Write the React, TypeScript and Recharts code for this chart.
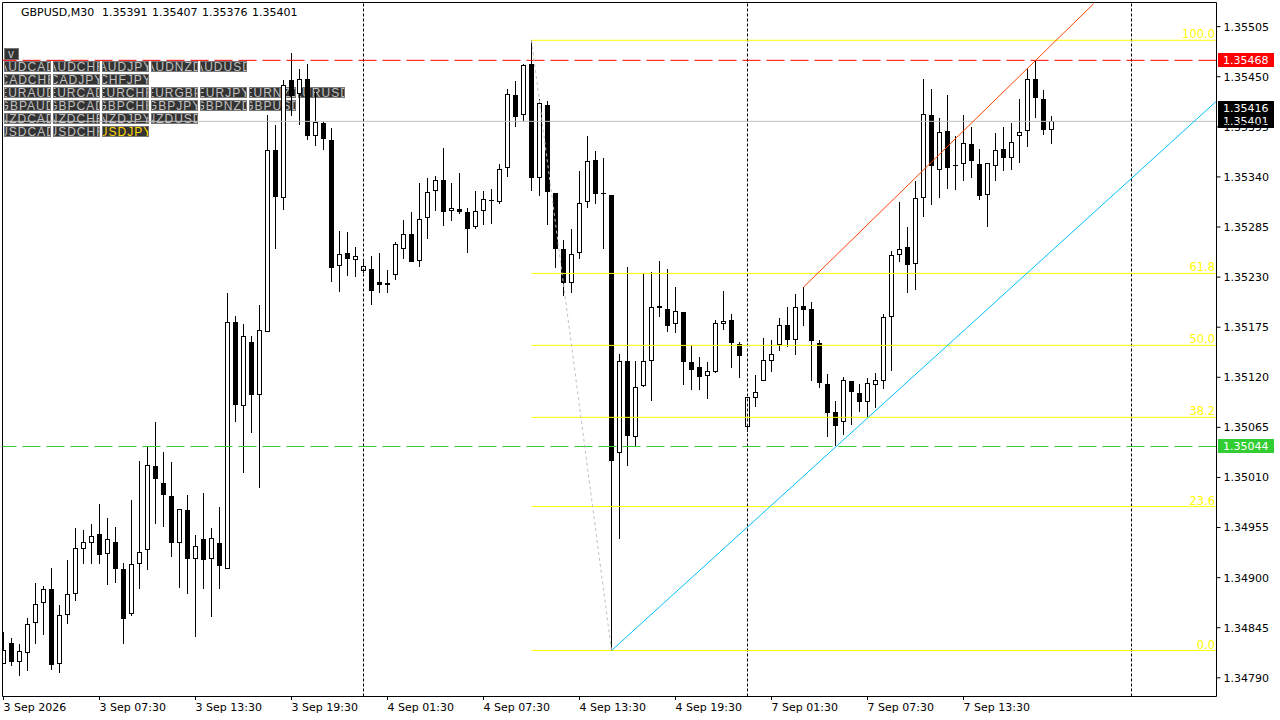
import { ComposedChart, Bar, XAxis, YAxis, ReferenceLine } from "recharts";

const opens = [
  1.34805, 1.34828, 1.34807, 1.34817, 1.3485, 1.34872, 1.34887, 1.34805, 1.34859, 1.34882,
  1.34932, 1.34938, 1.34948, 1.34926, 1.34939, 1.34909, 1.3486, 1.34915, 1.3493, 1.35023,
  1.35004, 1.3499, 1.34938, 1.34974, 1.3492, 1.34942, 1.3492, 1.34938, 1.3491, 1.35181,
  1.35089, 1.35159, 1.351, 1.3517, 1.3537, 1.35317, 1.35446, 1.35431, 1.35447, 1.35385,
  1.35399, 1.3538, 1.35242, 1.35256, 1.35249, 1.35237, 1.35239, 1.35225, 1.35223, 1.35232,
  1.35261, 1.35277, 1.35248, 1.35295, 1.35324, 1.35337, 1.35303, 1.35305, 1.35302, 1.35285,
  1.35303, 1.35315, 1.35313, 1.3535, 1.3543, 1.35408, 1.35464, 1.35339, 1.35419, 1.35322,
  1.35261, 1.35224, 1.35256, 1.35312, 1.35359, 1.35322, 1.3532, 1.35037, 1.35138, 1.35054,
  1.3511, 1.35138, 1.35198, 1.35195, 1.35178, 1.35192, 1.35137, 1.35131, 1.35121, 1.35126,
  1.35179, 1.35183, 1.35157, 1.35065, 1.35097, 1.35116, 1.35138, 1.35155, 1.35177, 1.35161,
  1.35198, 1.35195, 1.35158, 1.35113, 1.35082, 1.35071, 1.35116, 1.35103, 1.35093, 1.35112,
  1.35116, 1.35186, 1.35254, 1.35263, 1.35244, 1.35317, 1.35408, 1.35348, 1.3539, 1.35353,
  1.35354, 1.35376, 1.35354, 1.3532, 1.35352, 1.35371, 1.35361, 1.35385, 1.3539, 1.35448,
  1.35426, 1.35391,
];
const highs = [
  1.3484, 1.34834, 1.34827, 1.34856, 1.34894, 1.34891, 1.34911, 1.3487, 1.34919, 1.34955,
  1.34952, 1.34959, 1.34981, 1.34965, 1.34956, 1.34916, 1.34985, 1.35028, 1.35044, 1.35071,
  1.35038, 1.35027, 1.34975, 1.34991, 1.34947, 1.34993, 1.34955, 1.34978, 1.35212, 1.35187,
  1.35179, 1.35165, 1.35199, 1.35408, 1.35397, 1.35446, 1.35476, 1.35458, 1.35464, 1.35433,
  1.35401, 1.35394, 1.35281, 1.3528, 1.35263, 1.3525, 1.35253, 1.35256, 1.35238, 1.35268,
  1.35293, 1.35302, 1.35333, 1.35339, 1.35341, 1.35372, 1.35333, 1.35344, 1.35306, 1.35324,
  1.35324, 1.35327, 1.35354, 1.35437, 1.35445, 1.35464, 1.3549, 1.35426, 1.35423, 1.35322,
  1.35271, 1.35283, 1.35347, 1.35385, 1.35368, 1.35361, 1.3532, 1.35146, 1.35241, 1.35138,
  1.35233, 1.35236, 1.35248, 1.35239, 1.35219, 1.35192, 1.35155, 1.35142, 1.35137, 1.35183,
  1.35215, 1.35189, 1.35159, 1.35098, 1.35123, 1.35163, 1.35161, 1.35185, 1.35197, 1.35211,
  1.35219, 1.35203, 1.35161, 1.35124, 1.35094, 1.3512, 1.35116, 1.35113, 1.35119, 1.35125,
  1.35189, 1.35259, 1.35312, 1.35285, 1.35335, 1.35447, 1.35436, 1.35405, 1.3543, 1.35385,
  1.35408, 1.35395, 1.35371, 1.35355, 1.35388, 1.35395, 1.35399, 1.35425, 1.35459, 1.35468,
  1.35435, 1.35407,
];
const lows = [
  1.34805, 1.34803, 1.34792, 1.34797, 1.34827, 1.34837, 1.34799, 1.34795, 1.34849, 1.34874,
  1.34915, 1.34915, 1.34915, 1.34892, 1.34894, 1.34827, 1.34858, 1.34887, 1.34908, 1.34959,
  1.34956, 1.34923, 1.34889, 1.34882, 1.34835, 1.34887, 1.34857, 1.34887, 1.3491, 1.35071,
  1.35015, 1.35059, 1.34998, 1.3517, 1.35261, 1.35304, 1.35407, 1.35397, 1.3538, 1.35374,
  1.35369, 1.35225, 1.35214, 1.35231, 1.3523, 1.35234, 1.35199, 1.35213, 1.35213, 1.35227,
  1.3525, 1.35247, 1.35241, 1.35272, 1.35303, 1.35286, 1.35292, 1.35299, 1.35257, 1.35283,
  1.35287, 1.35288, 1.3531, 1.3534, 1.35395, 1.35401, 1.35325, 1.35319, 1.35287, 1.3524,
  1.35209, 1.35213, 1.3525, 1.35306, 1.3531, 1.35261, 1.3482, 1.34942, 1.35023, 1.35044,
  1.35109, 1.35094, 1.35186, 1.3517, 1.35169, 1.35112, 1.35106, 1.35106, 1.35096, 1.35125,
  1.35172, 1.3513, 1.35119, 1.3506, 1.35087, 1.35116, 1.35126, 1.35149, 1.35153, 1.35145,
  1.35176, 1.35116, 1.35108, 1.35054, 1.35044, 1.35057, 1.35068, 1.35082, 1.35076, 1.35086,
  1.35107, 1.35127, 1.35247, 1.35212, 1.35216, 1.35296, 1.35309, 1.35317, 1.35327, 1.35326,
  1.35336, 1.35339, 1.35315, 1.35285, 1.35335, 1.35347, 1.35348, 1.35355, 1.35373, 1.35405,
  1.35386, 1.35376,
];
const closes = [
  1.34821, 1.34807, 1.3482, 1.34849, 1.34871, 1.34887, 1.34804, 1.34859, 1.34882, 1.34933,
  1.34939, 1.34946, 1.34925, 1.34942, 1.3491, 1.34855, 1.34915, 1.34928, 1.35024, 1.35008,
  1.34991, 1.34938, 1.34975, 1.3492, 1.34935, 1.34919, 1.34943, 1.34913, 1.35181, 1.3509,
  1.35165, 1.35101, 1.35172, 1.35369, 1.35318, 1.35441, 1.35429, 1.35448, 1.35385, 1.354,
  1.35382, 1.3524, 1.35255, 1.3525, 1.35253, 1.35242, 1.35215, 1.35221, 1.35221, 1.35266,
  1.35277, 1.35247, 1.35294, 1.35323, 1.35337, 1.35301, 1.35306, 1.35301, 1.35283, 1.35303,
  1.35316, 1.35315, 1.35349, 1.35431, 1.35406, 1.35463, 1.35339, 1.35421, 1.35323, 1.35261,
  1.35223, 1.35255, 1.35311, 1.35358, 1.35321, 1.35321, 1.35028, 1.35138, 1.35055, 1.35109,
  1.35138, 1.35197, 1.35196, 1.35176, 1.35193, 1.35137, 1.35128, 1.3512, 1.35127, 1.3518,
  1.35182, 1.35158, 1.35143, 1.35098, 1.35104, 1.35139, 1.35146, 1.35177, 1.35161, 1.35197,
  1.35194, 1.3516, 1.35114, 1.35081, 1.35067, 1.35117, 1.35104, 1.35093, 1.35114, 1.35117,
  1.35186, 1.35254, 1.35261, 1.35243, 1.35317, 1.35409, 1.35352, 1.35389, 1.3535, 1.35353,
  1.35377, 1.35357, 1.35319, 1.35355, 1.35369, 1.35361, 1.35378, 1.35389, 1.35448, 1.35427,
  1.35391, 1.35401,
];

const priceTicks = [
  1.35505, 1.3545, 1.35395, 1.3534, 1.35285, 1.3523, 1.35175, 1.3512, 1.35065, 1.3501,
  1.34955, 1.349, 1.34845, 1.3479,
];
const timeTicks = [0, 12, 24, 36, 48, 60, 72, 84, 96, 108, 120];
const timeLabels = [
  "3 Sep 2026", "3 Sep 07:30", "3 Sep 13:30", "3 Sep 19:30", "4 Sep 01:30", "4 Sep 07:30",
  "4 Sep 13:30", "4 Sep 19:30", "7 Sep 01:30", "7 Sep 07:30", "7 Sep 13:30",
];
const daySeparators = [45, 93, 141];

const fibLevels = ["0.0", "23.6", "38.2", "50.0", "61.8", "100.0"];
const fibPrices = [1.3482, 1.34978, 1.35076, 1.35155, 1.35234, 1.3549];

const symbolRows = [
  ["AUDCAD", "AUDCHF", "AUDJPY", "AUDNZD", "AUDUSD"],
  ["CADCHF", "CADJPY", "CHFJPY"],
  ["EURAUD", "EURCAD", "EURCHF", "EURGBP", "EURJPY", "EURNZD", "EURUSD"],
  ["GBPAUD", "GBPCAD", "GBPCHF", "GBPJPY", "GBPNZD", "GBPUSD"],
  ["NZDCAD", "NZDCHF", "NZDJPY", "NZDUSD"],
  ["USDCAD", "USDCHF", "USDJPY"],
];

const candles = opens.map((open, i) => ({
  i,
  open,
  high: highs[i],
  low: lows[i],
  close: closes[i],
  range: [lows[i], highs[i]],
}));

const FONT = "'DejaVu Sans', sans-serif";
const X_MIN = -0.125;
const X_MAX = 151.625;

const Candle = (props: any) => {
  const { x, y, width, height, payload } = props;
  const { open, high, low, close } = payload;
  const perPrice = height / (high - low);
  const at = (p: number) => y + (high - p) * perPrice;
  const cx = Math.floor(x + width / 2) + 0.5;
  const top = Math.round(at(Math.max(open, close)));
  const bottom = Math.round(at(Math.min(open, close)));
  const isBull = close > open;
  return (
    <g shapeRendering="crispEdges">
      <line x1={cx} x2={cx} y1={Math.round(y)} y2={Math.round(y + height)} stroke="#000" />
      {isBull ? (
        <rect x={cx - 2} y={top + 0.5} width={4} height={Math.max(bottom - top - 1, 1)} fill="#fff" stroke="#000" />
      ) : (
        <rect x={cx - 2.5} y={top} width={5} height={Math.max(bottom - top, 1)} fill="#000" />
      )}
    </g>
  );
};

// axis sits at a fixed spot, so tick marks and labels hang off it directly
const TimeTick = ({ x, payload }: any) => (
  <g>
    <line x1={x} x2={x} y1={697} y2={700} stroke="#000" />
    <text x={x} y={711} fontFamily={FONT} fontSize={11} fill="#000" textAnchor="start">
      {timeLabels[timeTicks.indexOf(payload.value)]}
    </text>
  </g>
);

const priceTag = (fill: string, text: string) => (props: any) => {
  const { viewBox } = props;
  const cy = viewBox.y;
  return (
    <g>
      <rect x={1218} y={Math.round(cy) - 7} width={56} height={14} fill={fill} />
      <text x={1223} y={cy + 4} fontFamily={FONT} fontSize={11} fill="#fff">
        {text}
      </text>
    </g>
  );
};

const fibLabel = (text: string) => (props: any) => (
  <text x={1215} y={props.viewBox.y - 2} textAnchor="end" fontFamily={FONT} fontSize={11.5} fill="#ffff00">
    {text}
  </text>
);

function SymbolPanel() {
  const cell = (left: number, top: number, w: number, h: number, label: string, color: string) => (
    <div
      key={label}
      style={{
        position: "absolute",
        left,
        top,
        width: w,
        height: h,
        background: "#333",
        border: "1px solid #777",
        color,
        fontFamily: "'Liberation Sans', sans-serif",
        fontSize: 12,
        letterSpacing: 1,
        lineHeight: "10px",
        overflow: "hidden",
        display: "flex",
        justifyContent: "center",
        whiteSpace: "nowrap",
      }}
    >
      {label}
    </div>
  );
  return (
    <>
      {cell(4, 48, 13, 10, "v", "#c0c0c0")}
      {symbolRows.map((row, r) =>
        row.map((name, c) =>
          cell(4 + c * 49, 61 + r * 13, 45, 9, name, name === "USDJPY" ? "#ffd700" : "#c0c0c0")
        )
      )}
    </>
  );
}

export default function App() {
  return (
    <div style={{ position: "absolute", left: 0, top: 0, width: 1280, height: 720, background: "#fff", overflow: "hidden" }}>
      <SymbolPanel />
      <div style={{ position: "absolute", left: 21, top: 6, fontFamily: FONT, fontSize: 11, lineHeight: "14px", color: "#000" }}>
        GBPUSD,M30
      </div>
      <div style={{ position: "absolute", left: 102, top: 6, fontFamily: FONT, fontSize: 11, lineHeight: "14px", color: "#000", wordSpacing: 1, whiteSpace: "pre" }}>
        1.35391 1.35407 1.35376 1.35401
      </div>
      <div style={{ position: "absolute", left: 0, top: 0 }}>
        <ComposedChart
          width={1280}
          height={720}
          data={candles}
          margin={{ top: 2.5, right: 0, bottom: 0, left: 2.5 }}
        >
          <XAxis
            dataKey="i"
            type="number"
            domain={[X_MIN, X_MAX]}
            ticks={timeTicks}
            interval={0}
            height={23.5}
            tick={<TimeTick />}
            tickLine={false}
            axisLine={{ stroke: "#000" }}
            allowDataOverflow
          />
          <YAxis
            orientation="right"
            type="number"
            domain={[1.347695, 1.355315]}
            ticks={priceTicks}
            interval={0}
            width={63.5}
            tick={{ fill: "#000", fontSize: 11, fontFamily: FONT }}
            tickLine={{ stroke: "#000" }}
            tickSize={4}
            tickMargin={3}
            tickFormatter={(v: number) => v.toFixed(5)}
            axisLine={{ stroke: "#000" }}
            allowDataOverflow
          />
          <ReferenceLine x={X_MIN} stroke="#000" />
          <ReferenceLine y={1.355315} stroke="#000" />
          {daySeparators.map((d) => (
            <ReferenceLine key={d} x={d} stroke="#000" strokeDasharray="3 2" />
          ))}
          <ReferenceLine y={1.35401} stroke="#c0c0c0" label={{ content: priceTag("#000", "1.35401") }} />
          <ReferenceLine y={1.35416} stroke="none" label={{ content: priceTag("#000", "1.35416") }} />
          <ReferenceLine y={1.35468} stroke="#ff0000" strokeDasharray="18 6" label={{ content: priceTag("#ff0000", "1.35468") }} />
          <ReferenceLine y={1.35044} stroke="#32cd32" strokeDasharray="18 6" label={{ content: priceTag("#32cd32", "1.35044") }} />
          {fibPrices.map((p, i) => (
            <ReferenceLine
              key={fibLevels[i]}
              segment={[
                { x: 66, y: p },
                { x: 151.5, y: p },
              ]}
              stroke="#ffff00"
              label={{ content: fibLabel(fibLevels[i]) }}
            />
          ))}
          <ReferenceLine
            segment={[
              { x: 66, y: 1.3549 },
              { x: 76, y: 1.3482 },
            ]}
            stroke="#c0c0c0"
            strokeDasharray="3 3"
          />
          <ReferenceLine
            segment={[
              { x: 76, y: 1.3482 },
              { x: 151.6, y: 1.35423 },
            ]}
            stroke="#00bfff"
          />
          <ReferenceLine
            segment={[
              { x: 100, y: 1.35219 },
              { x: 136.25, y: 1.3553 },
            ]}
            stroke="#ff4500"
          />
          <Bar dataKey="range" barSize={5} shape={<Candle />} isAnimationActive={false} />
        </ComposedChart>
      </div>
    </div>
  );
}
